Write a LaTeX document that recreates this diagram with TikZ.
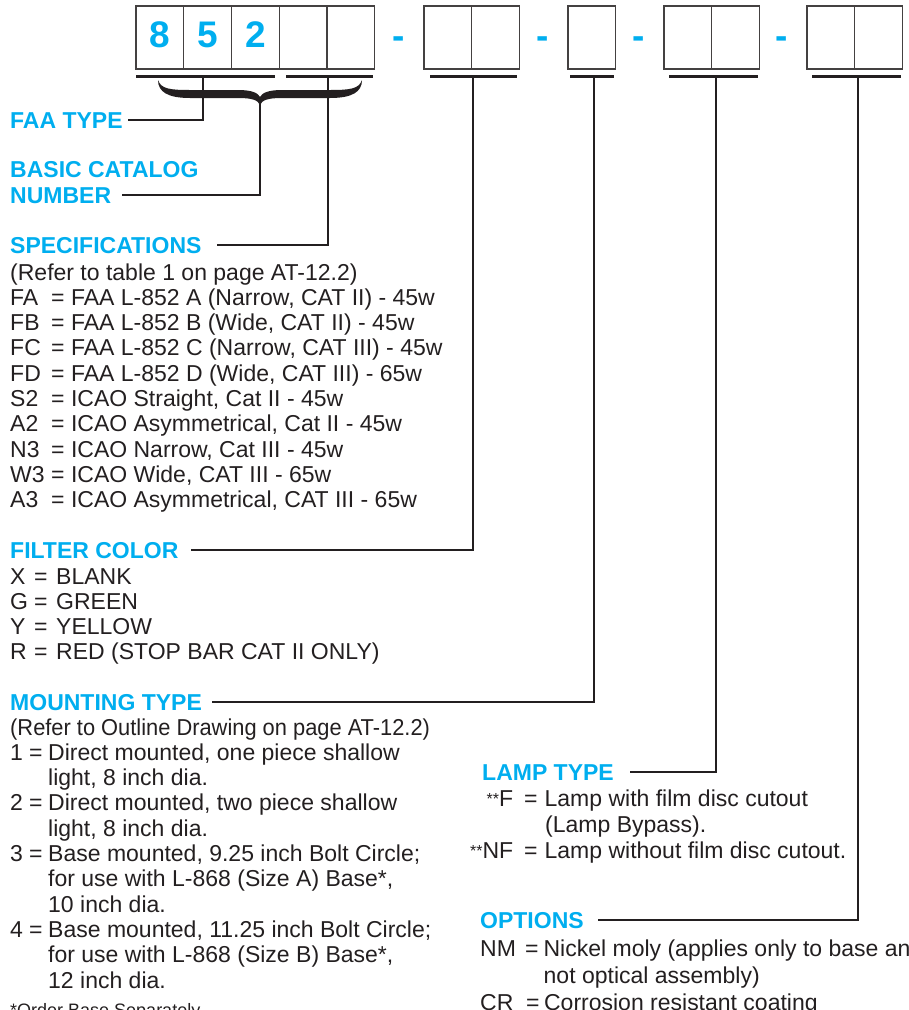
\documentclass[tikz,border=0pt]{standalone}
\usepackage{fontspec}
\setmainfont{Liberation Sans}
\usetikzlibrary{positioning}
\definecolor{faacyan}{RGB}{0,174,239}
\definecolor{inkgray}{RGB}{35,31,32}
\newcommand\kode[2]{\makebox[#1][l]{#2}}
\newcommand\kodr[2]{\makebox[#1][r]{#2}}
\newcommand\stars{\raisebox{2pt}{\fontsize{16}{16}\selectfont**}}
\tikzset{
  digitbox/.style = {draw=inkgray!85, line width=1.3pt, minimum width=47.75pt,
                     minimum height=63pt, inner sep=0pt, text depth=5pt,
                     font=\fontsize{37}{37}\selectfont\bfseries, text=faacyan},
  dashmark/.style = {font=\fontsize{37}{37}\selectfont\bfseries, text=faacyan,
                     inner sep=0pt, anchor=base},
  bar/.style      = {line width=3pt, inkgray},
  lead/.style     = {line width=2pt, inkgray},
  head/.style     = {font=\fontsize{23}{26}\selectfont\bfseries, text=faacyan,
                     inner sep=0pt, anchor=base west, text height=16.5pt, text depth=0pt},
  body/.style     = {font=\fontsize{23}{25.3}\selectfont, text=inkgray,
                     inner sep=0pt, anchor=base west, align=left},
}
\begin{document}
\begin{tikzpicture}[x=1pt, y=-1pt]
  \useasboundingbox (0,0) rectangle (909,1010);
  % code boxes
  \foreach \n/\x/\d in {b1/159.875/8, b2/207.625/5, b3/255.375/2, b4/303.125/{}, b5/350.875/{},
                        f1/447.875/{}, f2/495.625/{}, m1/591.875/{},
                        l1/687.875/{}, l2/735.625/{}, o1/830.875/{}, o2/878.625/{}}
    \node[digitbox] (\n) at (\x,37.5) {\d};
  \foreach \n/\x in {d1/399, d2/543, d3/639, d4/782}
    \node[dashmark] (\n) at (\x,48) {-};
  % underlines
  \draw[bar] (136,76) -- (275,76);
  \draw[bar] (286,76) -- (373,76);
  \draw[bar] (430,76) -- (517,76);
  \draw[bar] (570,76) -- (614,76);
  \draw[bar] (669,76) -- (758,76);
  \draw[bar] (812,76) -- (901,76);
  % brace under 852 + specs
  \fill[inkgray] (158,80) .. controls (161,89) and (170,90) .. (190,90) -- (238,90)
    .. controls (252,90) and (258,93) .. (260,97) .. controls (262,93) and (268,90) .. (282,90)
    -- (330,90) .. controls (350,90) and (359,89) .. (362,80)
    .. controls (362,92) and (352,98) .. (330,98) -- (282,98)
    .. controls (268,98) and (262,100) .. (260,105) .. controls (258,100) and (252,98) .. (238,98)
    -- (190,98) .. controls (168,98) and (158,92) .. (158,80) -- cycle;
  \coordinate (tfaa) at (203,76);
  \coordinate (tip) at (260,103);
  \coordinate (tspec) at (328,76);
  \coordinate (tfilt) at (473,76);
  \coordinate (tmount) at (594,76);
  \coordinate (tlamp) at (716,76);
  \coordinate (topt) at (858,78);
  % headings
  \node[head] (faa) at (10,128) {FAA TYPE};
  \node[head] (bcat) at (10,177) {BASIC CATALOG};
  \node[head] (bnum) at (10,203) {NUMBER};
  \node[head] (spec) at (10,253) {SPECIFICATIONS};
  \node[head] (filt) at (10,558) {FILTER COLOR};
  \node[head] (mount) at (10,710) {MOUNTING TYPE};
  \node[head] (lamp) at (482,780) {LAMP TYPE};
  \node[head] (opt) at (480,928) {OPTIONS};
  % leaders
  \draw[lead] (tfaa) |- ([xshift=5pt]faa.east);
  \draw[lead] (tip) |- ([xshift=11pt]bnum.east);
  \draw[lead] (tspec) |- ([xshift=15pt]spec.east);
  \draw[lead] (tfilt) |- ([xshift=12pt]filt.east);
  \draw[lead] (tmount) |- ([xshift=10pt]mount.east);
  \draw[lead] (tlamp) |- ([xshift=16pt]lamp.east);
  \draw[lead] (topt) |- ([xshift=14pt]opt.east);
  % lists
  \node[body] (specl) at (10,280) {\begin{tabular}[t]{@{}l@{}}
    (Refer to table 1 on page AT-12.2)\\
    \kode{41pt}{FA}= FAA L-852 A (Narrow, CAT II) - 45w\\
    \kode{41pt}{FB}= FAA L-852 B (Wide, CAT II) - 45w\\
    \kode{41pt}{FC}= FAA L-852 C (Narrow, CAT III) - 45w\\
    \kode{41pt}{FD}= FAA L-852 D (Wide, CAT III) - 65w\\
    \kode{41pt}{S2}= ICAO Straight, Cat II - 45w\\
    \kode{41pt}{A2}= ICAO Asymmetrical, Cat II - 45w\\
    \kode{41pt}{N3}= ICAO Narrow, Cat III - 45w\\
    \kode{41pt}{W3}= ICAO Wide, CAT III - 65w\\
    \kode{41pt}{A3}= ICAO Asymmetrical, CAT III - 65w
  \end{tabular}};
  \node[body] (filtl) at (10,584) {\begin{tabular}[t]{@{}l@{}}
    \kode{24pt}{X}=\hspace{8.6pt}BLANK\\
    \kode{24pt}{G}=\hspace{8.6pt}GREEN\\
    \kode{24pt}{Y}=\hspace{8.6pt}YELLOW\\
    \kode{24pt}{R}=\hspace{8.6pt}RED (STOP BAR CAT II ONLY)
  \end{tabular}};
  \node[body] (mountl) at (10,735) {\begin{tabular}[t]{@{}l@{}}
    \scalebox{0.95}[1]{(Refer to Outline Drawing on page AT-12.2)}\\
    \kode{19pt}{1}=\hspace{5.6pt}Direct mounted, one piece shallow\\
    \hspace*{38pt}light, 8 inch dia.\\
    \kode{19pt}{2}=\hspace{5.6pt}Direct mounted, two piece shallow\\
    \hspace*{38pt}light, 8 inch dia.\\
    \kode{19pt}{3}=\hspace{5.6pt}Base mounted, 9.25 inch Bolt Circle;\\
    \hspace*{38pt}for use with L-868 (Size A) Base*,\\
    \hspace*{38pt}10 inch dia.\\
    \kode{19pt}{4}=\hspace{5.6pt}Base mounted, 11.25 inch Bolt Circle;\\
    \hspace*{38pt}for use with L-868 (Size B) Base*,\\
    \hspace*{38pt}12 inch dia.
  \end{tabular}};
  \node[body, font=\fontsize{18}{20}\selectfont] (foot) at (10,1016) {*Order Base Separately};
  \node[body, font=\fontsize{23}{26}\selectfont] (lampl) at (465,806) {\begin{tabular}[t]{@{}l@{}}
    \kodr{48pt}{\stars F}\hspace{11pt}=\hspace{7pt}Lamp with film disc cutout\\
    \hspace*{80pt}(Lamp Bypass).\\
    \kodr{48pt}{\stars NF}\hspace{11pt}=\hspace{7pt}Lamp without film disc cutout.
  \end{tabular}};
  \node[body, font=\fontsize{23}{27}\selectfont] (optl) at (480,956) {\begin{tabular}[t]{@{}l@{}}
    \kode{45pt}{NM}=\hspace{5pt}Nickel moly (applies only to base and\\
    \hspace*{63.5pt}not optical assembly)\\
    \kode{46pt}{CR}=\hspace{4.5pt}Corrosion resistant coating
  \end{tabular}};
\end{tikzpicture}
\end{document}
